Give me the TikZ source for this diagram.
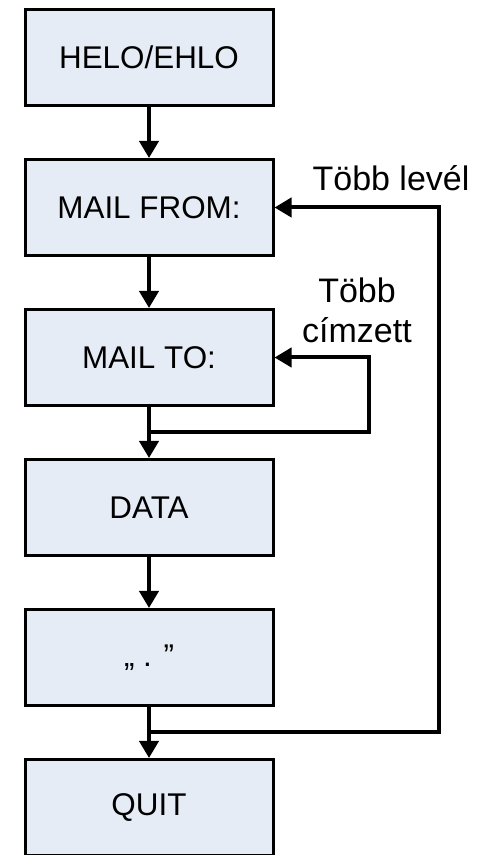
\documentclass[tikz,border=0pt]{standalone}
\usepackage{fontspec}
\setmainfont{Liberation Sans}
\usepackage{tikz}
\usetikzlibrary{positioning, calc, arrows.meta}
\definecolor{boxfill}{RGB}{230,236,246}

\begin{document}
\begin{tikzpicture}[x=0.5pt, y=0.5pt, >={Triangle[length=8.5pt, width=9.5pt]},
  node distance=25.5pt,
  cmdbox/.style={draw, line width=1.5pt, fill=boxfill, minimum width=124pt,
    minimum height=48pt, font=\fontsize{15.7}{18}\selectfont},
  flow/.style={->, line width=2pt},
  loopnote/.style={font=\fontsize{17}{20}\selectfont, align=center}]

\useasboundingbox (0,0) rectangle (484,855);

% SMTP commands, top to bottom
\node[cmdbox] (helo) at (149,797.5) {HELO/EHLO};
\node[cmdbox, below=of helo]  (mfrom) {MAIL FROM:};
\node[cmdbox, below=of mfrom] (mto)   {MAIL TO:};
\node[cmdbox, below=of mto]   (data)  {DATA};
\node[cmdbox, below=of data]  (dot)   {„ . ”};
\node[cmdbox, below=of dot]   (quit)  {QUIT};

\coordinate (rcptjoin) at ($(mto.south)!0.5!(data.north)$);
\coordinate (quitjoin) at ($(dot.south)!0.5!(quit.north)$);

\draw[flow] (helo) -- (mfrom);
\draw[flow] (mfrom) -- (mto);
\draw[flow] (mto) -- (data);
\draw[flow] (data) -- (dot);
\draw[flow] (dot) -- (quit);

% loops back
\draw[flow] (rcptjoin) -- ++(220,0) |- (mto.east);
\draw[flow] (quitjoin) -- ++(290,0) |- (mfrom.east);

\node[loopnote, anchor=base] (mailnote) at (391,664) {Több levél};
\node[loopnote] (rcptnote) at (357,545) {Több\\címzett};

\end{tikzpicture}
\end{document}
